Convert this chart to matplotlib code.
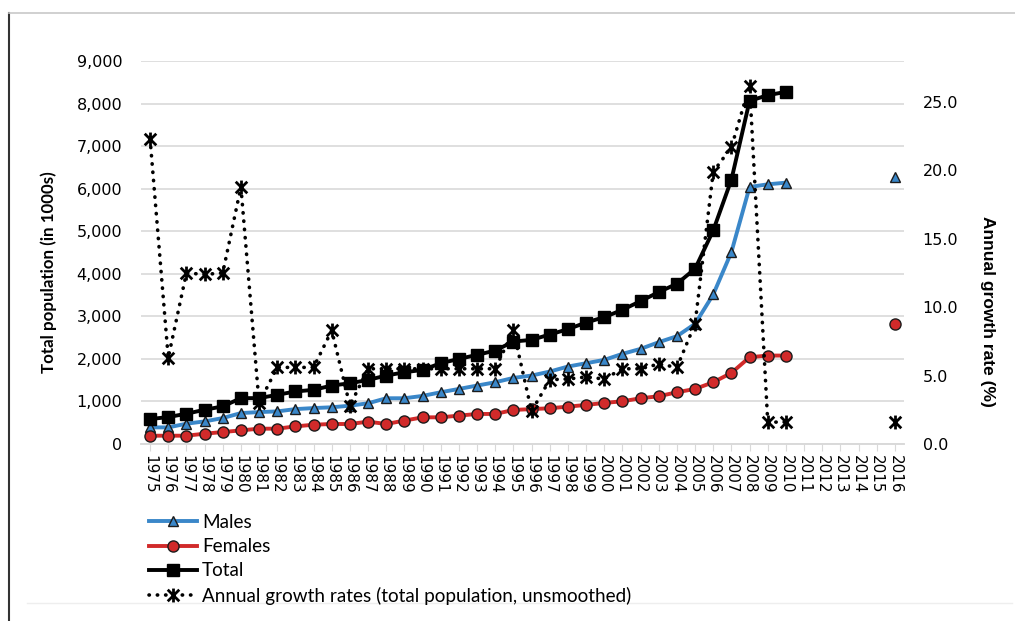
import matplotlib
matplotlib.use('Agg')
import matplotlib.pyplot as plt
from matplotlib.lines import Line2D
from matplotlib.path import Path
from matplotlib.ticker import FuncFormatter, MultipleLocator
import numpy as np

plt.rcParams['font.family'] = ['Lato', 'DejaVu Sans']

NAN = float('nan')

years = list(range(1975, 2017))

# thousands, 1975-2010, gap 2011-2015, then 2016
males = [390, 390, 477, 531, 609, 727, 750, 766, 820, 844,
         863, 900, 957, 1075, 1075, 1130, 1216, 1294, 1373, 1451,
         1553, 1608, 1702, 1820, 1898, 1976, 2118, 2235, 2392, 2533,
         2824, 3514, 4510, 6039, 6102, 6141,
         NAN, NAN, NAN, NAN, NAN, 6275]
females = [195, 195, 195, 242, 281, 320, 360, 360, 414, 453,
           470, 470, 525, 470, 550, 627, 627, 667, 706, 706,
           800, 820, 840, 878, 918, 965, 1004, 1075, 1122, 1216,
           1294, 1451, 1671, 2039, 2078, 2078,
           NAN, NAN, NAN, NAN, NAN, 2824]
total = [586, 633, 711, 805, 883, 1078, 1078, 1156, 1234, 1273,
         1373, 1427, 1506, 1608, 1686, 1741, 1898, 2000, 2094, 2196,
         2408, 2447, 2573, 2698, 2855, 2980, 3153, 3357, 3569, 3765,
         4118, 5020, 6212, 8063, 8196, 8275,
         NAN, NAN, NAN, NAN, NAN, NAN]
# percent
growth = [22.3, 6.3, 12.5, 12.4, 12.5, 18.8, 3.0, 5.6, 5.6, 5.6,
          8.3, 2.8, 5.5, 5.5, 5.5, 5.5, 5.5, 5.5, 5.5, 5.5,
          8.3, 2.4, 4.7, 4.75, 4.9, 4.75, 5.5, 5.5, 5.85, 5.6,
          8.8, 19.9, 21.7, 26.2, 1.6, 1.6,
          NAN, NAN, NAN, NAN, NAN, 1.6]

BLUE = '#3a87c9'
RED = '#d12a2a'
GRID = '#d9d9d9'
EDGE = '#1c1c1c'
TICKFONT = 'DejaVu Sans'

# Excel style star: an X with a vertical bar
STAR = Path([(-1, -1), (1, 1), (-1, 1), (1, -1), (0, -1.2), (0, 1.2)],
            [Path.MOVETO, Path.LINETO, Path.MOVETO, Path.LINETO,
             Path.MOVETO, Path.LINETO])

fig = plt.figure(figsize=(10.15, 6.21), dpi=100)
ax = fig.add_axes([141 / 1015, 1 - 444 / 621, 763 / 1015, 383 / 621])
ax2 = ax.twinx()

x = np.arange(len(years))

l_m, = ax.plot(x, males, color=BLUE, lw=2.8, marker='^', ms=7.5,
               mfc=BLUE, mec=EDGE, mew=1.0, label='Males', zorder=3)
l_f, = ax.plot(x, females, color=RED, lw=2.8, marker='o', ms=8,
               mfc=RED, mec=EDGE, mew=1.0, label='Females', zorder=3)
l_t, = ax.plot(x, total, color='black', lw=2.8, marker='s', ms=8,
               mfc='black', mec='black', label='Total', zorder=4)
l_g, = ax2.plot(x, growth, color='black', lw=2.6, ls=(0, (0.1, 2.2)),
                dash_capstyle='round', marker=STAR, ms=10, mec='black',
                mew=2.0, label='Annual growth rates (total population, unsmoothed)')

ax.set_xlim(-0.5, len(years) - 0.5)
ax.set_ylim(0, 9000)
ax2.set_ylim(0, 28.0)

ax.yaxis.set_major_locator(MultipleLocator(1000))
ax.yaxis.set_major_formatter(FuncFormatter(lambda v, p: f'{int(v):,}'))
ax2.yaxis.set_major_locator(MultipleLocator(5))
ax2.yaxis.set_major_formatter(FuncFormatter(lambda v, p: f'{v:.1f}'))

ax.set_xticks(x)
ax.set_xticklabels([str(y) for y in years], rotation=270, fontsize=11,
                   family=TICKFONT)
ax.tick_params(axis='x', length=5, color=GRID, pad=3)
ax.tick_params(axis='y', length=0, labelsize=11.5, pad=13.5)
ax2.tick_params(axis='y', length=0, labelsize=11.5, pad=13.5)
for lab in ax.get_yticklabels() + ax2.get_yticklabels():
    lab.set_family(TICKFONT)

ax.grid(axis='y', color=GRID, lw=1.2)
ax.set_axisbelow(True)
for a in (ax, ax2):
    for s in ('left', 'right', 'top'):
        a.spines[s].set_visible(False)
    a.spines['bottom'].set_color(GRID)
    a.spines['bottom'].set_linewidth(1.2)

ax.set_ylabel('Total population (in 1000s)', fontsize=12.2, fontweight='bold',
              va='center')
ax.yaxis.set_label_coords(-0.1206, 0.449)
ax2.set_ylabel('Annual growth rate (%)', fontsize=12.5, fontweight='bold',
               rotation=270, va='center', family='Liberation Sans')
ax2.yaxis.set_label_coords(1.109, 0.347)

fig.legend(handles=[l_m, l_f, l_t, l_g], loc='upper left',
           bbox_to_anchor=(149 / 1015, 1 - 514 / 621), frameon=False,
           fontsize=13.6, handlelength=2.55, handletextpad=0.25,
           labelspacing=0.38, numpoints=1, borderaxespad=0, borderpad=0)

# page frame remnants
fig.add_artist(Line2D([9 / 1015, 9 / 1015], [1 - 13 / 621, 0],
                      color='#333333', lw=1.5))
fig.add_artist(Line2D([9 / 1015, 1.0], [1 - 13 / 621, 1 - 13 / 621],
                      color='#c8c8c8', lw=1.2))
fig.add_artist(Line2D([27 / 1015, 1012 / 1015], [1 - 603 / 621, 1 - 603 / 621],
                      color='#eeeeee', lw=1.0))

fig.savefig('out.png', dpi=100)
